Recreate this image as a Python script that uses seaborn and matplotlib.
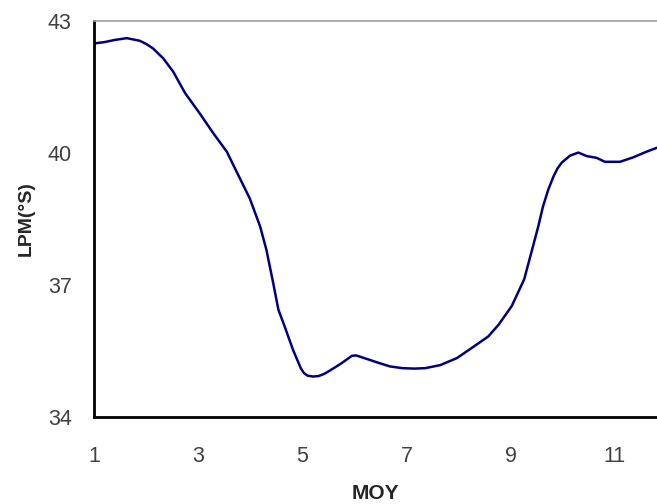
import matplotlib
matplotlib.use("Agg")
import matplotlib.pyplot as plt
import seaborn as sns
import pandas as pd

month = [1.0, 1.2, 1.4, 1.63, 1.88, 2.0, 2.13, 2.33, 2.52, 2.75, 3.03, 3.29, 3.55, 3.74,
         3.99, 4.19, 4.31, 4.44, 4.54, 4.66, 4.82, 4.92, 4.97, 5.03, 5.10, 5.20, 5.31,
         5.42, 5.55, 5.75, 5.88, 5.95, 6.03, 6.11, 6.44, 6.68, 6.92, 7.15, 7.36, 7.65,
         7.97, 8.29, 8.57, 8.77, 9.02, 9.26, 9.40, 9.53, 9.62, 9.72, 9.82, 9.90, 9.98,
         10.14, 10.30, 10.46, 10.65, 10.81, 11.10, 11.35, 11.61, 11.81]
lpm = [42.49, 42.52, 42.57, 42.61, 42.55, 42.48, 42.38, 42.15, 41.85, 41.36, 40.90,
       40.45, 40.03, 39.57, 38.97, 38.33, 37.80, 37.05, 36.44, 36.06, 35.53, 35.25,
       35.11, 35.00, 34.94, 34.92, 34.93, 34.98, 35.07, 35.22, 35.33, 35.39, 35.40,
       35.37, 35.24, 35.15, 35.11, 35.10, 35.11, 35.18, 35.34, 35.60, 35.83, 36.10,
       36.52, 37.13, 37.75, 38.33, 38.78, 39.16, 39.46, 39.65, 39.78, 39.94, 40.01,
       39.93, 39.89, 39.80, 39.80, 39.90, 40.03, 40.12]
x_ticks = [1, 3, 5, 7, 9, 11]
y_ticks = [34, 37, 40, 43]

df = pd.DataFrame({"MOY": month, "LPM": lpm})

sns.set_style("white")
plt.rcParams["font.family"] = ["Liberation Sans", "DejaVu Sans"]

fig = plt.figure(figsize=(6.57, 5.04), dpi=100)
ax = fig.add_axes([94 / 657, 1 - 417 / 504, 1 - 94 / 657, (417 - 21) / 504])

sns.lineplot(data=df, x="MOY", y="LPM", ax=ax, color="#000080", linewidth=1.8,
             estimator=None, sort=False)

ax.set_xlim(1, 11.81)
ax.set_ylim(34, 43)
ax.set_xticks(x_ticks)
ax.set_yticks(y_ticks)
ax.set_xticklabels([str(t) for t in x_ticks])
ax.set_yticklabels([str(t) for t in y_ticks])

for s in ["left", "bottom"]:
    ax.spines[s].set_color("black")
    ax.spines[s].set_linewidth(2.0)
ax.spines["right"].set_visible(False)
ax.spines["top"].set_color("#a0a0a0")
ax.spines["top"].set_linewidth(1.2)

ax.tick_params(axis="both", which="major", direction="out", length=7, width=1.8,
               color="black", labelsize=15.5, labelcolor="#404040")
ax.tick_params(axis="x", pad=14)
ax.tick_params(axis="y", pad=9)

ax.set_xlabel("MOY", fontsize=15, fontweight="bold", labelpad=12)
ax.set_ylabel("LPM(°S)", fontsize=14, fontweight="bold", labelpad=9)
ax.grid(False)

fig.savefig("out.png", dpi=100)
